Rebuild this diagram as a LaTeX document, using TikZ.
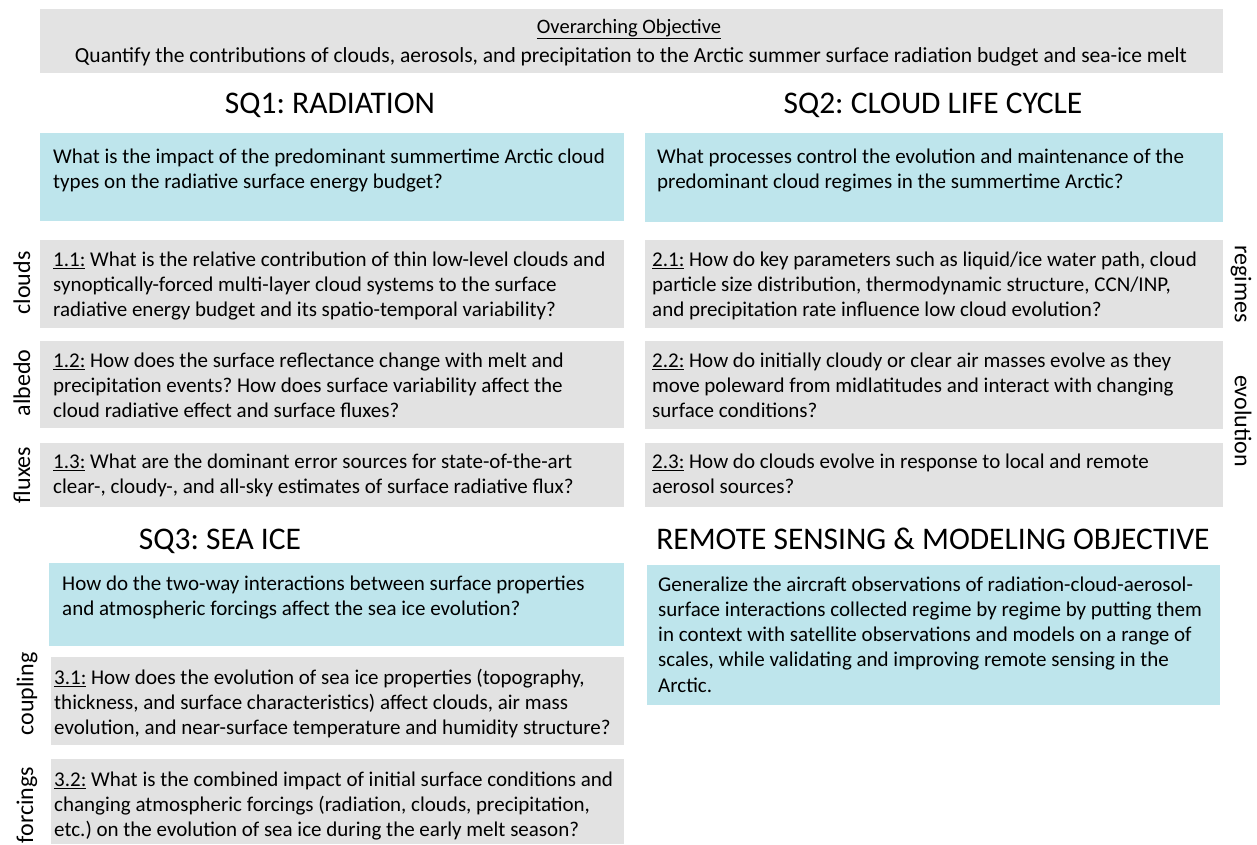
\documentclass[tikz,border=0pt]{standalone}
\usepackage{fontspec}
\setmainfont{Carlito}
\usetikzlibrary{calc}
\definecolor{qblue}{HTML}{BEE5EC}
\definecolor{qgray}{HTML}{E2E2E2}
\definecolor{bannergray}{HTML}{E3E3E3}
\begin{document}
\frenchspacing
\begin{tikzpicture}[x=1pt,y=-1pt,
  box/.style={draw=none, inner sep=0pt, anchor=north west},
  bluebox/.style={box, fill=qblue},
  graybox/.style={box, fill=qgray},
  txt/.style={inner sep=0pt, anchor=north west, align=left, font=\fontsize{21}{25.2}\selectfont, text=black},
  title/.style={inner sep=0pt, anchor=base, font=\fontsize{31.5}{36}\selectfont},
  side/.style={inner sep=0pt, font=\fontsize{24}{28}\selectfont},
]
\useasboundingbox (0,0) rectangle (1257,844);
\fill[white] (0,0) rectangle (1257,844);
\newcommand{\fl}{\rule{0pt}{17pt}}

% banner
\node[box, fill=bannergray, minimum width=1183pt, minimum height=64pt] (banner) at (40,9) {};
\node[inner sep=0pt, anchor=base, font=\fontsize{20.5}{24}\selectfont] (objtitle) at (629,33) {\underline{Overarching Objective}};
\node[inner sep=0pt, anchor=base, font=\fontsize{21.5}{25}\selectfont] (objtext) at (631,62) {Quantify the contributions of clouds, aerosols, and precipitation to the Arctic summer surface radiation budget and sea-ice melt};

% titles
\node[title] (t1) at (330,113) {SQ1: RADIATION};
\node[title] (t2) at (933,113) {SQ2: CLOUD LIFE CYCLE};
\node[title] (t3) at (220,549) {SQ3: SEA ICE};
\node[title] (t4) at (933,549) {REMOTE SENSING \& MODELING OBJECTIVE};

% SQ1 column
\node[bluebox, minimum width=584pt, minimum height=88pt] (b1) at (40,133) {};
\node[txt] (b1t) at ($(b1.north west)+(13,13)$) {\fl What is the impact of the predominant summertime Arctic cloud\\types on the radiative surface energy budget?};
\node[graybox, minimum width=584pt, minimum height=88pt] (q11) at (40,240) {};
\node[txt] (q11t) at ($(q11.north west)+(13,9)$) {\fl\underline{1.1:} What is the relative contribution of thin low-level clouds and\\synoptically-forced multi-layer cloud systems to the surface\\radiative energy budget and its spatio-temporal variability?};
\node[graybox, minimum width=584pt, minimum height=87pt] (q12) at (40,341) {};
\node[txt] (q12t) at ($(q12.north west)+(13,9)$) {\fl\underline{1.2:} How does the surface reflectance change with melt and\\precipitation events? How does surface variability affect the\\cloud radiative effect and surface fluxes?};
\node[graybox, minimum width=584pt, minimum height=64pt] (q13) at (40,443) {};
\node[txt] (q13t) at ($(q13.north west)+(13,8)$) {\fl\underline{1.3:} What are the dominant error sources for state-of-the-art\\clear-, cloudy-, and all-sky estimates of surface radiative flux?};

% SQ2 column
\node[bluebox, minimum width=578pt, minimum height=89pt] (b2) at (645,133) {};
\node[txt] (b2t) at ($(b2.north west)+(12,13)$) {\fl What processes control the evolution and maintenance of the\\predominant cloud regimes in the summertime Arctic?};
\node[graybox, minimum width=578pt, minimum height=88pt] (q21) at (645,240) {};
\node[txt] (q21t) at ($(q21.north west)+(7,9)$) {\fl\underline{2.1:} How do key parameters such as liquid/ice water path, cloud\\particle size distribution, thermodynamic structure, CCN/INP,\\and precipitation rate influence low cloud evolution?};
\node[graybox, minimum width=578pt, minimum height=88pt] (q22) at (645,341) {};
\node[txt] (q22t) at ($(q22.north west)+(7,9)$) {\fl\underline{2.2:} How do initially cloudy or clear air masses evolve as they\\move poleward from midlatitudes and interact with changing\\surface conditions?};
\node[graybox, minimum width=578pt, minimum height=64pt] (q23) at (645,443) {};
\node[txt] (q23t) at ($(q23.north west)+(7,8)$) {\fl\underline{2.3:} How do clouds evolve in response to local and remote\\aerosol sources?};

% SQ3 column
\node[bluebox, minimum width=575pt, minimum height=83pt] (b3) at (49,563) {};
\node[txt] (b3t) at ($(b3.north west)+(13,10)$) {\fl How do the two-way interactions between surface properties\\and atmospheric forcings affect the sea ice evolution?};
\node[graybox, minimum width=573pt, minimum height=88pt] (q31) at (51,657) {};
\node[txt] (q31t) at ($(q31.north west)+(3,10)$) {\fl\underline{3.1:} How does the evolution of sea ice properties (topography,\\thickness, and surface characteristics) affect clouds, air mass\\evolution, and near-surface temperature and humidity structure?};
\node[graybox, minimum width=573pt, minimum height=85pt] (q32) at (51,759) {};
\node[txt] (q32t) at ($(q32.north west)+(3,10)$) {\fl\underline{3.2:} What is the combined impact of initial surface conditions and\\changing atmospheric forcings (radiation, clouds, precipitation,\\etc.) on the evolution of sea ice during the early melt season?};

% remote sensing
\node[bluebox, minimum width=573pt, minimum height=140pt] (b4) at (647,565) {};
\node[txt] (b4t) at ($(b4.north west)+(11,9)$) {\fl Generalize the aircraft observations of radiation-cloud-aerosol-\\surface interactions collected regime by regime by putting them\\in context with satellite observations and models on a range of\\scales, while validating and improving remote sensing in the\\Arctic.};

% side labels
\node[side, rotate=90] (lclouds) at (22,283) {clouds};
\node[side, rotate=90] (lalbedo) at (22,383) {albedo};
\node[side, rotate=90] (lfluxes) at (22,475) {fluxes};
\node[side, rotate=90] (lcoupling) at (27,694) {coupling};
\node[side, rotate=90] (lforcings) at (27,805) {forcings};
\node[side, rotate=-90] (lregimes) at (1241,284) {regimes};
\node[side, rotate=-90] (levolution) at (1243,421) {evolution};
\end{tikzpicture}
\end{document}
